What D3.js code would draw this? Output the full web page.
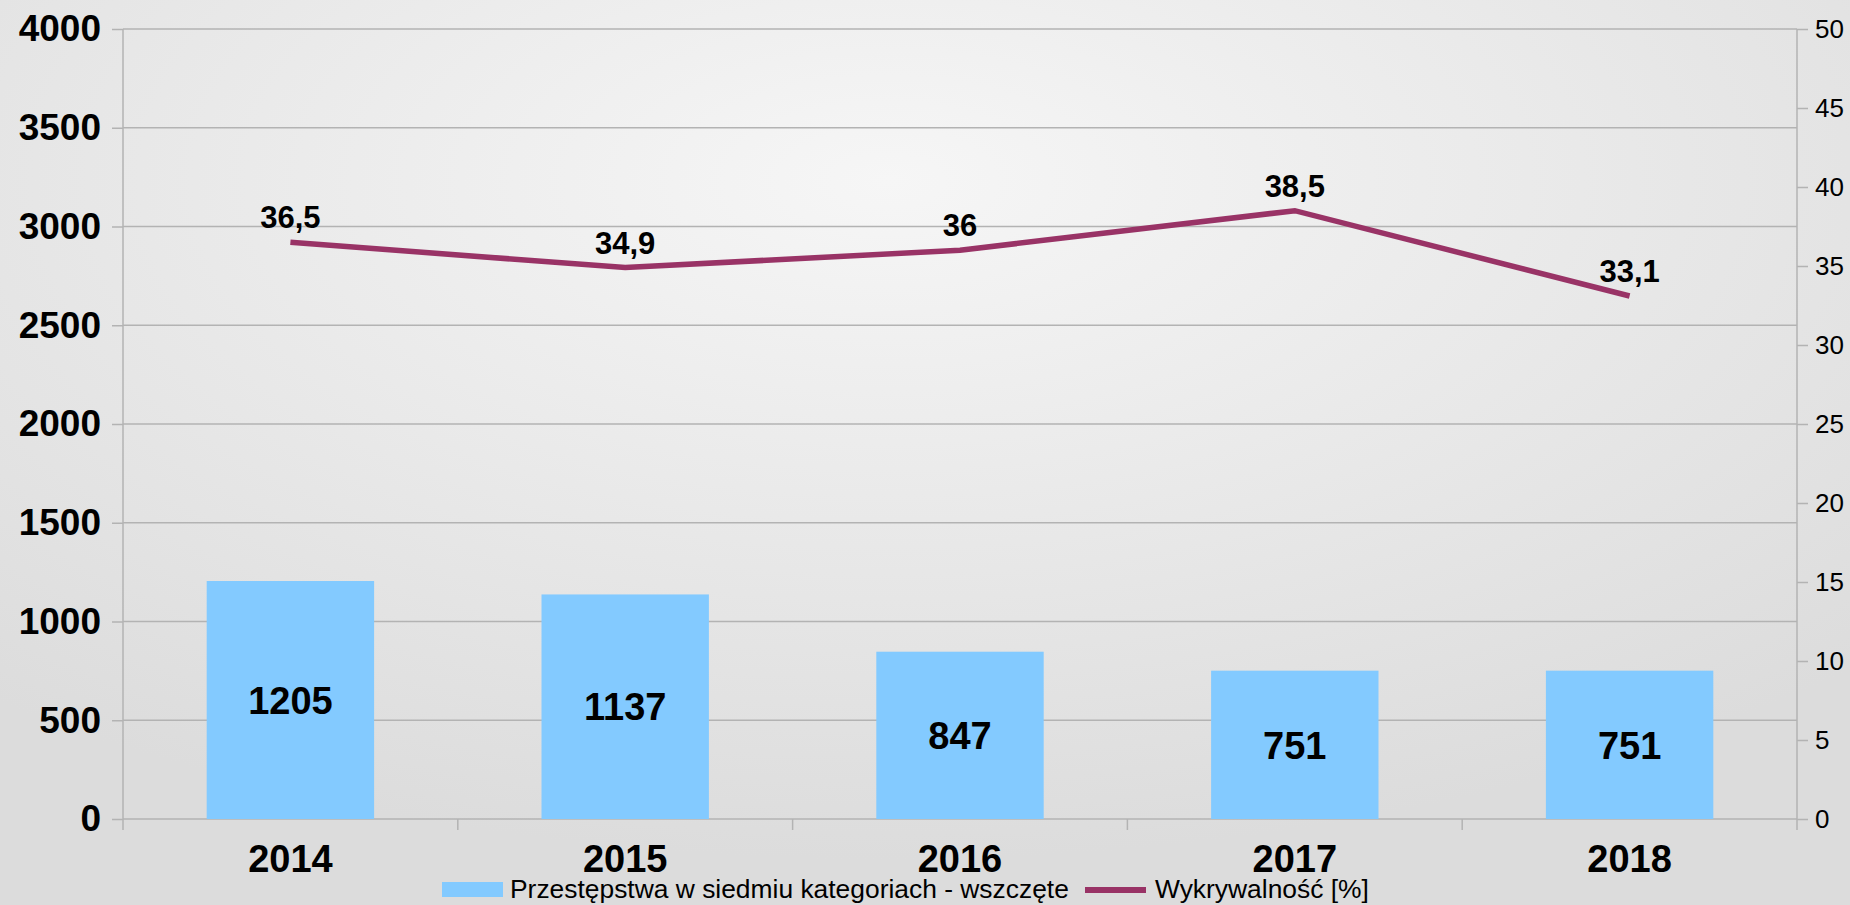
<!DOCTYPE html>
<html>
<head>
<meta charset="utf-8">
<script src="https://cdn.jsdelivr.net/npm/d3@7"></script>
<style>
  body { margin: 0; padding: 0; overflow: hidden; }
  svg { display: block; font-family: "Liberation Sans", Arial, sans-serif; }
</style>
</head>
<body>
<script>
//chart data
var years = ["2014", "2015", "2016", "2017", "2018"];
var crimes = [1205, 1137, 847, 751, 751]; //Przestępstwa w siedmiu kategoriach - wszczęte
var detection = [36.5, 34.9, 36, 38.5, 33.1]; //Wykrywalność [%]
var leftTicks = [0, 500, 1000, 1500, 2000, 2500, 3000, 3500, 4000];
var rightTicks = [0, 5, 10, 15, 20, 25, 30, 35, 40, 45, 50];
var seriesNames = ["Przestępstwa w siedmiu kategoriach - wszczęte", "Wykrywalność [%]"];

var width = 1850,
    height = 905;

var plot = {left: 123, right: 1797, top: 29, bottom: 819};

var svg = d3.select("body")
    .append("svg")
    .attr("width", width)
    .attr("height", height);

//background gradient
var defs = svg.append("defs");
var grad = defs.append("radialGradient")
    .attr("id", "bg")
    .attr("cx", 0.48).attr("cy", 0.2).attr("r", 0.75);
grad.append("stop").attr("offset", "0%").attr("stop-color", "#f6f6f6");
grad.append("stop").attr("offset", "100%").attr("stop-color", "#dcdcdc");
svg.append("rect")
    .attr("width", width)
    .attr("height", height)
    .attr("fill", "url(#bg)");

//scales
var x = d3.scaleBand()
    .domain(years)
    .range([plot.left, plot.right])
    .paddingInner(0.5)
    .paddingOuter(0.25);

var xBand = d3.scaleBand()
    .domain(years)
    .range([plot.left, plot.right]);

var yLeft = d3.scaleLinear()
    .domain([0, 4000])
    .range([plot.bottom, plot.top]);

var yRight = d3.scaleLinear()
    .domain([0, 50])
    .range([plot.bottom, plot.top]);

var gridColor = "#b3b3b3";

//horizontal gridlines
svg.append("g")
    .selectAll("line")
    .data(leftTicks)
    .enter()
    .append("line")
    .attr("x1", plot.left)
    .attr("x2", plot.right)
    .attr("y1", function(d){ return yLeft(d); })
    .attr("y2", function(d){ return yLeft(d); })
    .attr("stroke", gridColor)
    .attr("stroke-width", 1.5);

//left axis
var leftAxis = svg.append("g")
    .attr("transform", "translate(" + plot.left + ",0)")
    .call(d3.axisLeft(yLeft).tickValues(leftTicks).tickFormat(d3.format("d")).tickSize(11).tickPadding(11));
leftAxis.select(".domain").remove();
leftAxis.append("line")
    .attr("x1", 0).attr("x2", 0)
    .attr("y1", plot.top).attr("y2", plot.bottom + 11)
    .attr("stroke", gridColor).attr("stroke-width", 1.5);
leftAxis.selectAll(".tick line").attr("stroke", gridColor).attr("stroke-width", 1.5);
leftAxis.selectAll("text")
    .attr("fill", "#000")
    .style("font-family", "Liberation Sans, Arial, sans-serif")
    .style("font-size", "37px")
    .style("font-weight", "bold");

//right axis
var rightAxis = svg.append("g")
    .attr("transform", "translate(" + plot.right + ",0)")
    .call(d3.axisRight(yRight).tickValues(rightTicks).tickFormat(d3.format("d")).tickSize(11).tickPadding(7));
rightAxis.select(".domain").remove();
rightAxis.append("line")
    .attr("x1", 0).attr("x2", 0)
    .attr("y1", plot.top).attr("y2", plot.bottom + 11)
    .attr("stroke", gridColor).attr("stroke-width", 1.5);
rightAxis.selectAll(".tick line").attr("stroke", gridColor).attr("stroke-width", 1.5);
rightAxis.selectAll("text")
    .attr("fill", "#000")
    .style("font-family", "Liberation Sans, Arial, sans-serif")
    .style("font-size", "26px");

//category ticks at band boundaries
svg.append("g")
    .selectAll("line")
    .data(years.slice(1))
    .enter()
    .append("line")
    .attr("x1", function(d){ return xBand(d); })
    .attr("x2", function(d){ return xBand(d); })
    .attr("y1", plot.bottom)
    .attr("y2", plot.bottom + 11)
    .attr("stroke", gridColor)
    .attr("stroke-width", 1.5);

//category labels
svg.append("g")
    .selectAll("text")
    .data(years)
    .enter()
    .append("text")
    .attr("x", function(d){ return xBand(d) + xBand.bandwidth() / 2; })
    .attr("y", 872)
    .attr("text-anchor", "middle")
    .style("font-size", "38px")
    .style("font-weight", "bold")
    .text(function(d){ return d; });

//bars
svg.append("g")
    .selectAll("rect")
    .data(crimes)
    .enter()
    .append("rect")
    .attr("x", function(d, i){ return x(years[i]); })
    .attr("width", x.bandwidth())
    .attr("y", function(d){ return yLeft(d); })
    .attr("height", function(d){ return yLeft(0) - yLeft(d); })
    .attr("fill", "#83caff");

//bar value labels
svg.append("g")
    .selectAll("text")
    .data(crimes)
    .enter()
    .append("text")
    .attr("x", function(d, i){ return x(years[i]) + x.bandwidth() / 2; })
    .attr("y", function(d){ return (yLeft(d) + yLeft(0)) / 2; })
    .attr("dy", "0.36em")
    .attr("text-anchor", "middle")
    .style("font-size", "38px")
    .style("font-weight", "bold")
    .text(function(d){ return d; });

//line series
var line = d3.line()
    .x(function(d, i){ return xBand(years[i]) + xBand.bandwidth() / 2; })
    .y(function(d){ return yRight(d); });

svg.append("path")
    .datum(detection)
    .attr("d", line)
    .attr("fill", "none")
    .attr("stroke", "#993366")
    .attr("stroke-width", 5.5);

//line value labels
svg.append("g")
    .selectAll("text")
    .data(detection)
    .enter()
    .append("text")
    .attr("x", function(d, i){ return xBand(years[i]) + xBand.bandwidth() / 2; })
    .attr("y", function(d){ return yRight(d) - 14; })
    .attr("text-anchor", "middle")
    .style("font-size", "31px")
    .style("font-weight", "bold")
    .text(function(d){ return String(d).replace(".", ","); });

//legend
var legend = svg.append("g");
legend.append("rect")
    .attr("x", 442).attr("y", 882)
    .attr("width", 61).attr("height", 15)
    .attr("fill", "#83caff");
legend.append("text")
    .attr("x", 510).attr("y", 898)
    .style("font-size", "26.4px")
    .text(seriesNames[0]);
legend.append("line")
    .attr("x1", 1085).attr("x2", 1146)
    .attr("y1", 890).attr("y2", 890)
    .attr("stroke", "#993366")
    .attr("stroke-width", 6);
legend.append("text")
    .attr("x", 1155).attr("y", 898)
    .style("font-size", "26.4px")
    .text(seriesNames[1]);
</script>
</body>
</html>
